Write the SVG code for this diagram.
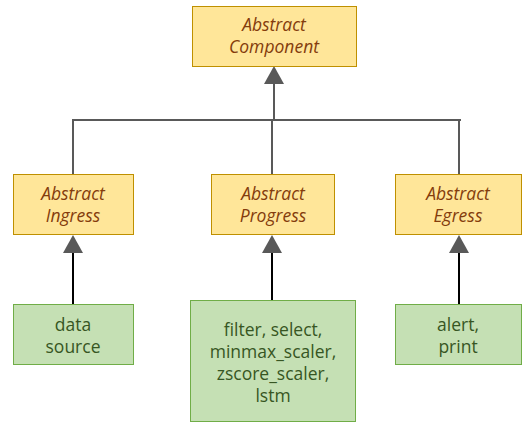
<svg xmlns="http://www.w3.org/2000/svg" width="526" height="423" viewBox="0 0 526 423">
<style>
.abs rect{fill:#FFE699;stroke:#BF9000;stroke-width:1}
.abs text{font-family:"Open Sans","Noto Sans",sans-serif;font-style:italic;font-size:17.5px;fill:#843C0C;text-anchor:middle}
.imp rect{fill:#C5E0B4;stroke:#70AD47;stroke-width:1}
.imp text{font-family:"Open Sans","Noto Sans",sans-serif;font-size:17.5px;fill:#375623;text-anchor:middle}
.gl{stroke:#595959;stroke-width:2;fill:none}
.bl{stroke:#000;stroke-width:2;fill:none}
.ah{fill:#595959}
</style>
<rect width="526" height="423" fill="#fff"/>
<g id="connectors">
<path class="gl" d="M274 84 V120 M73 120 H461 M73 119 V174 M272 119 V174 M459 119 V174"/>
<polygon class="ah" points="274,66 264,84 284,84"/>
<path class="bl" d="M73 253 V304 M272 253 V300 M459 253 V304"/>
<polygon class="ah" points="73,235 63,253 83,253"/>
<polygon class="ah" points="272,235 262,253 282,253"/>
<polygon class="ah" points="459,235 449,253 469,253"/>
</g>
<g id="component" class="abs"><rect x="192.5" y="6.5" width="164" height="60"/><text x="274" y="31">Abstract<tspan x="274" y="53">Component</tspan></text></g>
<g id="ingress" class="abs"><rect x="13.5" y="174.5" width="120" height="60"/><text x="73" y="200">Abstract<tspan x="73" y="222">Ingress</tspan></text></g>
<g id="progress" class="abs"><rect x="211.5" y="174.5" width="123" height="60"/><text x="273" y="200">Abstract<tspan x="273" y="222">Progress</tspan></text></g>
<g id="egress" class="abs"><rect x="395.5" y="174.5" width="126" height="60"/><text x="458" y="200">Abstract<tspan x="458" y="222">Egress</tspan></text></g>
<g id="datasource" class="imp"><rect x="13.5" y="304.5" width="120" height="60"/><text x="73" y="331">data<tspan x="73" y="353">source</tspan></text></g>
<g id="ops" class="imp"><rect x="190.5" y="300.5" width="165" height="121"/><text x="273" y="336">filter, select,<tspan x="273" y="358">minmax_scaler,</tspan><tspan x="273" y="380">zscore_scaler,</tspan><tspan x="273" y="402">lstm</tspan></text></g>
<g id="outputs" class="imp"><rect x="395.5" y="304.5" width="126" height="60"/><text x="458" y="331">alert,<tspan x="458" y="353">print</tspan></text></g>
</svg>
